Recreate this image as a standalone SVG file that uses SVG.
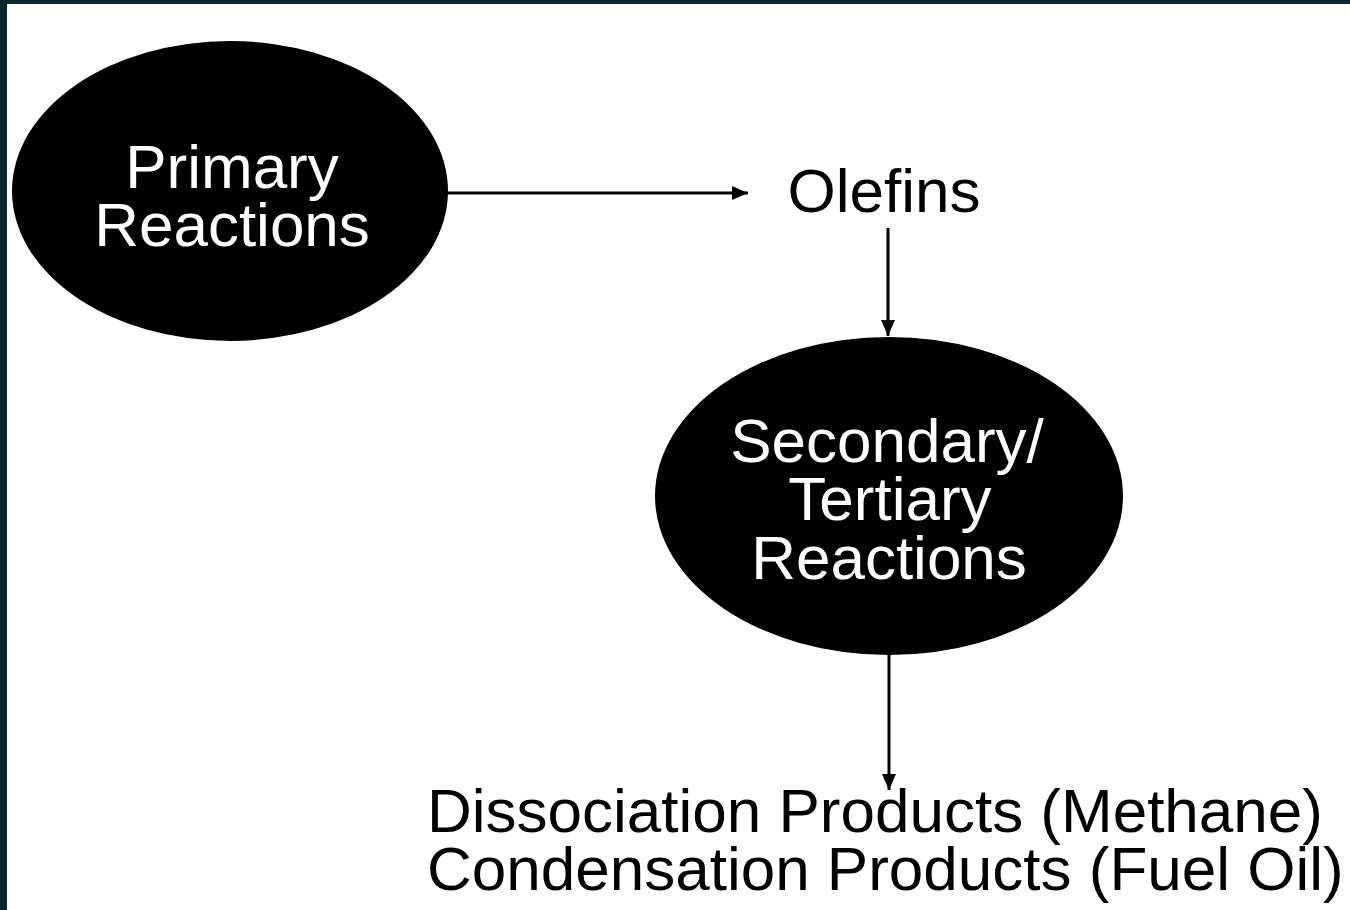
<svg xmlns="http://www.w3.org/2000/svg" width="1350" height="910" viewBox="0 0 1350 910">
<style>
.lbl{font-family:"Liberation Sans",Arial,sans-serif;font-size:62px;}
.w{fill:#ffffff;text-anchor:middle;}
.b{fill:#000000;}
.node{fill:#000000;}
.conn{stroke:#000000;stroke-width:3;fill:none;}
</style>
<defs>
<marker id="ah" markerWidth="16" markerHeight="14" refX="16" refY="7" orient="auto" markerUnits="userSpaceOnUse">
<path d="M0,0 L16,7 L0,14 Z" fill="#000000"/>
</marker>
</defs>
<rect x="0" y="0" width="1350" height="910" fill="#0c2630"/>
<rect x="7" y="4" width="1343" height="906" fill="#ffffff"/>
<g id="primary">
<ellipse class="node" cx="230" cy="191" rx="218" ry="150"/>
<text class="lbl w" x="232" y="188">Primary</text>
<text class="lbl w" x="232" y="246">Reactions</text>
</g>
<g id="olefins">
<text class="lbl b" x="884" y="212" text-anchor="middle">Olefins</text>
</g>
<g id="secondary">
<ellipse class="node" cx="889" cy="496" rx="234" ry="159"/>
<text class="lbl w" x="887" y="462">Secondary/</text>
<text class="lbl w" x="890" y="520">Tertiary</text>
<text class="lbl w" x="889" y="579">Reactions</text>
</g>
<g id="products">
<text class="lbl b" x="427" y="832">Dissociation Products (Methane)</text>
<text class="lbl b" x="427" y="890">Condensation Products (Fuel Oil)</text>
</g>
<g id="connectors">
<line class="conn" x1="447" y1="193" x2="748" y2="193" marker-end="url(#ah)"/>
<line class="conn" x1="888" y1="228" x2="888" y2="336" marker-end="url(#ah)"/>
<line class="conn" x1="889" y1="655" x2="889" y2="790" marker-end="url(#ah)"/>
</g>
</svg>
